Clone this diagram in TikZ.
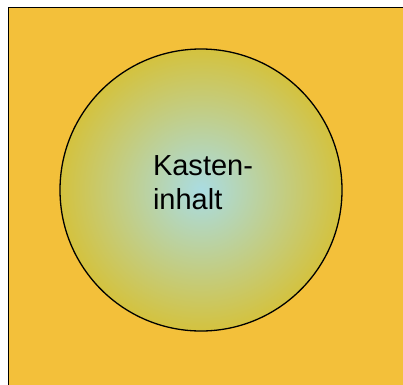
\documentclass[tikz,border=0pt]{standalone}
\usepackage{fontspec}
\setmainfont{Liberation Sans}
\usepackage{xcolor}
\usetikzlibrary{positioning}
\definecolor{kastenbg}{RGB}{243,192,58}
\definecolor{kreisrand}{RGB}{212,194,62}
\definecolor{kreismitte}{RGB}{170,220,226}
\tikzset{
  kasten/.style={draw, line width=1.6pt, fill=kastenbg},
  inhaltkreis/.style={draw, circle, line width=1.3pt, minimum size=282pt, inner sep=0pt,
                      inner color=kreismitte, outer color=kreisrand},
  inhalttext/.style={align=left, inner sep=0pt, font=\fontsize{29}{34}\selectfont},
}
\begin{document}
\begin{tikzpicture}[x=1pt, y=1pt]
    \useasboundingbox (0,0) rectangle (403,384);
    \clip (0,0) rectangle (403,384);
    \draw[kasten] (8.5,376.5) rectangle (420,-20);
    \node[inhaltkreis] (kreis) at (201,194) {};
    \node[inhalttext] (text) at ([shift={(2,7)}]kreis.center) {Kasten-\\inhalt};
  \end{tikzpicture}
\end{document}
